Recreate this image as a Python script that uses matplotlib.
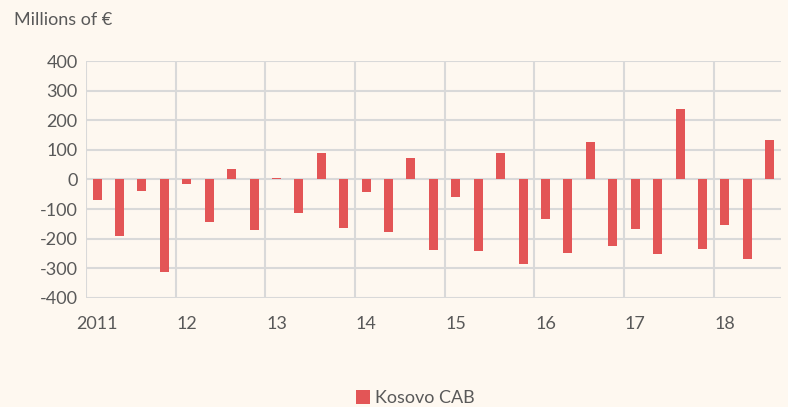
import numpy as np
import matplotlib.pyplot as plt

plt.rcParams['font.family'] = ['Lato', 'DejaVu Sans']

# quarterly current account balance, 2011Q1 - 2018Q3
cab = [-68, -191, -38, -313,
       -14, -142, 35, -172,
       5, -112, 91, -165,
       -41, -177, 74, -239,
       -59, -240, 89, -287,
       -134, -247, 126, -226,
       -168, -251, 238, -234,
       -153, -269, 134]
year_labels = ['2011', '12', '13', '14', '15', '16', '17', '18']
yticks = [-400, -300, -200, -100, 0, 100, 200, 300, 400]

bg = '#FEF8F0'
bar_col = '#E35556'
grid_col = '#D9D9D9'
txt = '#595959'
fs = 13

fig = plt.figure(figsize=(7.88, 4.07), dpi=100, facecolor=bg)
ax = fig.add_axes([0.109, 0.268, 0.882, 0.582], facecolor=bg)

x = np.arange(len(cab))
ax.bar(x, cab, width=0.4, color=bar_col, label='Kosovo CAB', zorder=3)

ax.set_xlim(-0.5, len(cab) - 0.5)
ax.set_ylim(-400, 400)
ax.set_yticks(yticks)
ax.set_yticklabels([str(v) for v in yticks])
ax.yaxis.grid(True, color=grid_col, linewidth=1.5, zorder=0)
for b in np.arange(-0.5, len(cab), 4):
    ax.axvline(b, color=grid_col, linewidth=1.5, zorder=0)

ax.set_xticks(np.arange(0, len(cab), 4))
ax.set_xticklabels(year_labels)
ax.tick_params(length=0, labelsize=fs, colors=txt)
ax.tick_params(axis='x', pad=13)
ax.tick_params(axis='y', pad=6)
for s in ax.spines.values():
    s.set_visible(False)

fig.text(0.018, 0.95, 'Millions of €', fontsize=fs, color=txt, va='center')

leg = fig.legend(loc='center', bbox_to_anchor=(0.527, 0.022), frameon=False,
                 fontsize=fs, handlelength=0.8, handleheight=0.8, handletextpad=0.3)
for t in leg.get_texts():
    t.set_color(txt)

fig.savefig('out.png', dpi=100, facecolor=bg)
